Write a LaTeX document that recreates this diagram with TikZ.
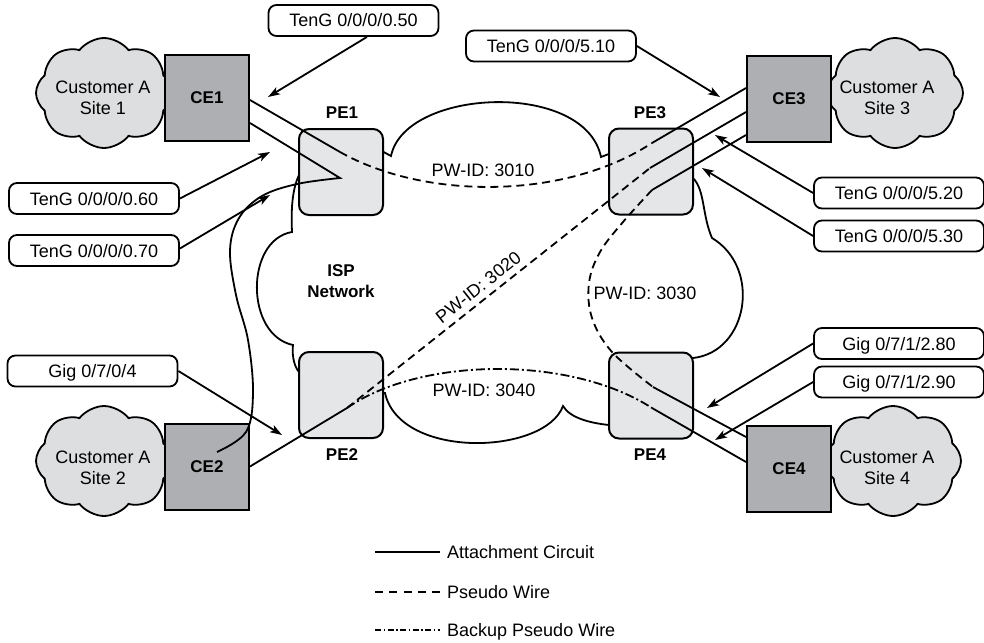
\documentclass[tikz,border=0pt]{standalone}
\usepackage{fontspec}
\setmainfont{Liberation Sans}
\usetikzlibrary{shapes.symbols,arrows.meta}
\definecolor{cegray}{RGB}{173,175,178}
\definecolor{pegray}{RGB}{229,230,231}
\definecolor{cloudgray}{RGB}{221,222,223}
\begin{document}
\begin{tikzpicture}[x=1pt,y=-1pt,
  font=\fontsize{18}{21}\selectfont,
  cebox/.style={draw, line width=2pt, fill=cegray, minimum width=84pt, minimum height=86pt, inner sep=0pt, font=\fontsize{17}{20}\selectfont\bfseries},
  pebox/.style={draw, line width=2pt, fill=pegray, rounded corners=10pt, minimum width=84pt, minimum height=86pt, inner sep=0pt},
  custcloud/.style={cloud, cloud puffs=8, cloud puff arc=105, cloud ignores aspect, draw, line width=1.8pt, fill=cloudgray, minimum width=136pt, minimum height=110pt, inner sep=0pt},
  sitetxt/.style={align=center, inner sep=0pt},
  callout/.style={draw, line width=1.8pt, rounded corners=8pt, minimum width=170pt, minimum height=31pt, text height=13pt, text depth=0pt, inner sep=0pt, fill=white},
  ac/.style={line width=1.8pt},
  pw/.style={line width=1.8pt, dash pattern=on 8pt off 5pt},
  bpw/.style={line width=1.8pt, dash pattern=on 9pt off 3pt on 2pt off 3pt},
  arr/.style={line width=1.8pt, -{Stealth[length=12pt,width=8pt,inset=3pt]}},
  isp/.style={line width=1.8pt},
  pelbl/.style={font=\fontsize{17}{20}\selectfont\bfseries, inner sep=0pt},
  pwlbl/.style={text height=13pt, text depth=0pt, inner sep=0pt},
  legtxt/.style={anchor=west, inner xsep=7pt, inner ysep=0pt, text height=13pt, text depth=0pt}
]
\useasboundingbox (0,0) rectangle (984,642);

% ISP network cloud outline
\draw[isp] (378,149) -- (391,156) .. controls (405,88) and (585,80) .. (601,157) -- (614,152);
\draw[isp] (688,178) -- (693,178) .. controls (705,190) and (702,215) .. (712,238) .. controls (762,268) and (748,352) .. (693,358) -- (688,358);
\draw[isp] (614,425) -- (609,425) .. controls (590,423) and (570,418) .. (563,406) .. controls (545,455) and (400,460) .. (385,393) -- (378,393);
\draw[isp] (304,372) -- (299,372) .. controls (293,365) and (292,352) .. (293,345) .. controls (245,335) and (245,240) .. (292,232) .. controls (291,210) and (292,190) .. (299,175) -- (304,172);
\node[font=\fontsize{17}{21}\selectfont\bfseries, align=center, inner sep=0pt] (ispn) at (341,281) {ISP\\Network};

% customer clouds
\node[custcloud] (cl1) at (104,93) {};
\node[custcloud] (cl3) at (895,93) {};
\node[custcloud] (cl2) at (104,461) {};
\node[custcloud] (cl4) at (893,461) {};
\node[sitetxt] (st1) at (103,98) {Customer A\\Site 1};
\node[sitetxt] (st3) at (887,98) {Customer A\\Site 3};
\node[sitetxt] (st2) at (103,468) {Customer A\\Site 2};
\node[sitetxt] (st4) at (887,468) {Customer A\\Site 4};

% CE boxes
\node[cebox] (ce1) at (207,98) {CE1};
\node[cebox] (ce3) at (789,99) {CE3};
\node[cebox] (ce2) at (207,466.5) {CE2};
\node[cebox] (ce4) at (789,468.5) {CE4};

% PE boxes
\node[pebox] (pe1) at (341,172) {};
\node[pebox] (pe3) at (651,171.5) {};
\node[pebox] (pe2) at (341,395) {};
\node[pebox] (pe4) at (651,395.5) {};
\node[pelbl] (pe1l) at (342,113) {PE1};
\node[pelbl] (pe3l) at (650,113) {PE3};
\node[pelbl] (pe2l) at (342,455) {PE2};
\node[pelbl] (pe4l) at (650,455) {PE4};

% points inside PE boxes
\coordinate (p1a) at (340,152);
\coordinate (p1b) at (340,178);
\coordinate (p3a) at (652,143);
\coordinate (p3b) at (650,168);
\coordinate (p3c) at (652,190);
\coordinate (p2a) at (347,408);
\coordinate (p4a) at (653,387);
\coordinate (p4b) at (652,408);

% CE1 - PE1 - PW 3010 - PE3 - CE3
\draw[ac] ([yshift=-2pt]ce1.east) -- (p1a);
\draw[pw] (p1a) .. controls (425,200) and (565,200) .. (p3a);
\draw[ac] (p3a) -- ([yshift=11pt]ce3.west);
\node[pwlbl] (l3010) at (483,170) {PW-ID: 3010};

% CE1 - PE1 - CE2 local connection
\draw[ac] ([yshift=-25pt]ce1.east) -- plot[smooth, tension=0.6] coordinates {(p1b) (297,184) (262,196) (239,218) (230,250) (236,295) (248,340) (253,393) (246,432) (217,452)};

% CE2 - PE2 - PW 3020 - PE3 - CE3
\draw[ac] (ce2.east) -- (p2a);
\draw[pw] (p2a) -- node[pwlbl, pos=0.46, sloped, above=6pt] (l3020) {PW-ID: 3020} (p3b);
\draw[ac] (p3b) -- ([yshift=-13pt]ce3.west);

% CE3 - PE3 - PW 3030 - PE4 - CE4
\draw[ac] ([yshift=-36pt]ce3.west) -- (p3c);
\draw[pw] plot[smooth, tension=0.6] coordinates {(p3c) (623,222) (600,252) (589,283) (592,318) (612,352) (p4a)};
\draw[ac] (p4a) -- ([yshift=31.5pt]ce4.west);
\node[pwlbl] (l3030) at (645,293) {PW-ID: 3030};

% PE2 - backup PW 3040 - PE4 - CE4
\draw[bpw] (p2a) .. controls (420,357) and (570,355) .. (p4b);
\draw[ac] (p4b) -- ([yshift=6.5pt]ce4.west);
\node[pwlbl] (l3040) at (484,390) {PW-ID: 3040};

% callouts
\node[callout] (b050) at (353.5,20.5) {TenG 0/0/0/0.50};
\node[callout] (b060) at (94,198.5) {TenG 0/0/0/0.60};
\node[callout] (b070) at (94,250.5) {TenG 0/0/0/0.70};
\node[callout] (b510) at (551,46) {TenG 0/0/0/5.10};
\node[callout] (b520) at (899,193) {TenG 0/0/0/5.20};
\node[callout] (b530) at (899,236) {TenG 0/0/0/5.30};
\node[callout] (b704) at (92.5,371) {Gig 0/7/0/4};
\node[callout] (b280) at (899,343.5) {Gig 0/7/1/2.80};
\node[callout] (b290) at (899,382) {Gig 0/7/1/2.90};

\coordinate (a050) at (268,97);
\coordinate (a060) at (270,152);
\coordinate (a070) at (270,195);
\coordinate (a510) at (720,97);
\coordinate (a520) at (715,135);
\coordinate (a530) at (702,168);
\coordinate (a704) at (282,435);
\coordinate (a280) at (707,408);
\coordinate (a290) at (715,440);

\draw[arr] ([xshift=13.5pt]b050.south) -- (a050);
\draw[arr] (b060.east) -- (a060);
\draw[arr] ([yshift=2pt]b070.east) -- (a070);
\draw[arr] (b510.east) -- (a510);
\draw[arr] (b520.west) -- (a520);
\draw[arr] (b530.west) -- (a530);
\draw[arr] (b704.east) -- (a704);
\draw[arr] (b280.west) -- (a280);
\draw[arr] (b290.west) -- (a290);

% legend
\coordinate (lg1) at (375,552);
\coordinate (lg2) at (375,592);
\coordinate (lg3) at (375,630);
\node[legtxt] (lt1) at (440,552) {Attachment Circuit};
\node[legtxt] (lt2) at (440,592) {Pseudo Wire};
\node[legtxt] (lt3) at (440,630) {Backup Pseudo Wire};
\draw[ac] (lg1) -- (lt1.west);
\draw[line width=1.8pt, dash pattern=on 8pt off 6.25pt] (lg2) -- (lt2.west);
\draw[line width=1.8pt, dash pattern=on 6pt off 2.5pt on 1.5pt off 2.5pt] (lg3) -- (lt3.west);
\end{tikzpicture}
\end{document}
